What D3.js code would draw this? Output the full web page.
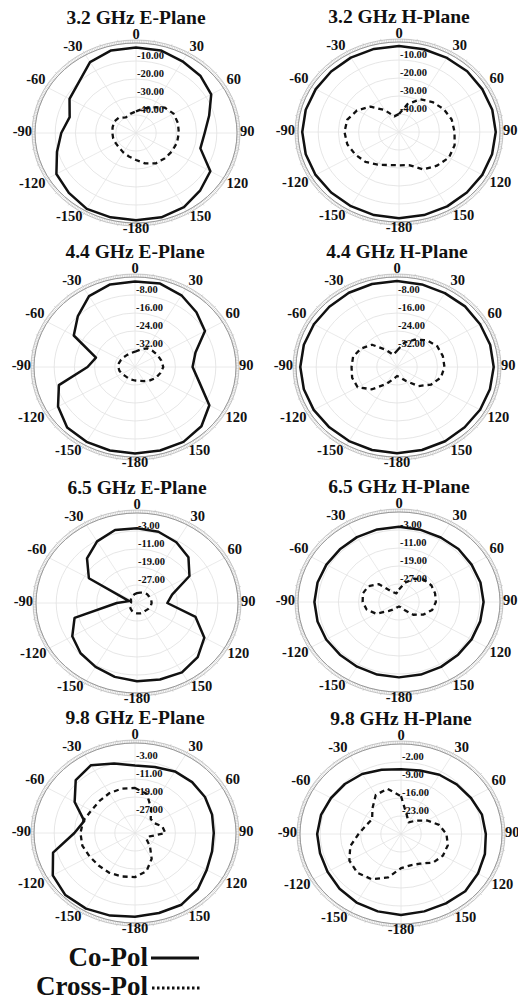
<!DOCTYPE html>
<html><head><meta charset="utf-8">
<script src="https://cdn.jsdelivr.net/npm/d3@7"></script>
<style>html,body{margin:0;padding:0;background:#fff;}svg{display:block;}</style>
</head><body>
<svg id="c" width="518" height="1002"></svg>
<script>
// Angles (deg, clockwise from top); 195..345 correspond to -165..-15
const angles = [0,15,30,45,60,75,90,105,120,135,150,165,180,195,210,225,240,255,270,285,300,315,330,345];
const angleTickLabels = ["0","30","60","90","120","150","-180","-150","-120","-90","-60","-30"];
const angleTickAngles = [0,30,60,90,120,150,180,210,240,270,300,330];

const titles = ["3.2 GHz E-Plane","3.2 GHz H-Plane","4.4 GHz E-Plane","4.4 GHz H-Plane",
                "6.5 GHz E-Plane","6.5 GHz H-Plane","9.8 GHz E-Plane","9.8 GHz H-Plane"];

// radial ranges [center, outer] in dB and printed ring labels
const radialDomains = [[-50,0],[-50,0],[-40,0],[-40,0],[-35,5],[-35,5],[-35,5],[-30,5]];
const radialTicks = [
  [-10,-20,-30,-40],[-10,-20,-30,-40],
  [-8,-16,-24,-32],[-8,-16,-24,-32],
  [-3,-11,-19,-27],[-3,-11,-19,-27],
  [-3,-11,-19,-27],[-2,-9,-16,-23]];

// Co-polar patterns (dB)
const coPol32E = [-2.5,-2.5,-4,-5,-7,-12.5,-16,-17,-7.5,-5,-2.5,-1.5,-1.5,-1.5,-1.3,-3,-4.5,-9.5,-13,-16,-12,-10,-4.5,-2.5];
const coPol32H = [-2.2,-2.4,-2.5,-2.3,-2.4,-2.2,-2.1,-2.3,-2.4,-2.5,-2.3,-2.2,-2.1,-2.2,-2.4,-2.5,-2.3,-2.2,-2.1,-2.2,-2.4,-2.5,-2.3,-2.2];
const coPol44E = [-2,-1.6,-3.2,-5.6,-8,-15.2,-17.2,-13.6,-6,-2.8,-1.6,-1.6,-1.6,-1.6,-1.6,-2,-4.8,-8.8,-21.2,-24,-12,-8,-3.6,-2];
const coPol44H = [-1.8,-2,-2.1,-1.9,-2,-1.8,-1.7,-1.9,-2,-2.1,-1.9,-1.8,-1.7,-1.8,-2,-2.1,-1.9,-1.8,-1.7,-1.8,-2,-2.1,-1.9,-1.8];
const coPol65E = [-1.8,-2.2,-3.8,-6.2,-11,-20.6,-23,-11,-4.2,-1,0.6,0.2,-0.2,-1,-2.2,-3.4,-5.4,-9.4,-27,-31.8,-13,-7,-3.4,-1.4];
const coPol65H = [-1.6,-1.8,-1.9,-1.7,-1.8,-1.6,-1.5,-1.7,-1.8,-1.9,-1.7,-1.6,-1.5,-1.6,-1.8,-1.9,-1.7,-1.6,-1.5,-1.6,-1.8,-1.9,-1.7,-1.6];
const coPol98E = [-5,-4.6,-3.4,-3,-3,-3.4,-3.8,-3.4,-2.2,0.2,1.8,1.8,2.2,3,3.8,4,2.6,-1.4,-11,-14.2,-7.4,-1.8,-0.2,-3];
const coPol98H = [-4.8,-4.45,-3.4,-2.7,-2,-0.95,-0.6,0.1,0.8,1.5,1.15,1.15,1.5,1.15,0.8,0.1,-0.6,-0.95,-0.95,-1.3,-2,-2.5,-3.05,-4.1];

// Cross-polar patterns (dB)
const xPol32E = [-38,-36,-33.5,-30,-28.5,-28.5,-28.8,-29,-29.5,-30,-30.5,-32.5,-35,-36.5,-37.5,-38.3,-38.5,-38.3,-38.3,-38,-37.5,-38,-40,-39];
const xPol32H = [-40,-34,-29,-26.5,-24.5,-23,-22.5,-21.5,-21.5,-23.5,-26,-31,-31.5,-31,-29,-26.5,-25,-23.5,-23,-23.5,-26,-30,-36,-41];
const xPol44E = [-33.2,-32,-30.4,-30,-29.6,-29.2,-28.8,-29.6,-30.4,-31.6,-32.8,-33.6,-34,-34.2,-34.4,-34.4,-34,-33.6,-33.4,-33.4,-33.6,-33.8,-33.8,-33.6];
const xPol44H = [-32.8,-28.8,-26,-23.2,-21.6,-21.2,-21.2,-22,-24.4,-28,-32.8,-35.2,-36,-34.4,-31.2,-26,-22,-21.6,-22,-22,-23.6,-26,-31.2,-34.4];
const xPol65E = [-30.6,-30.2,-29.8,-29.4,-29.4,-29.2,-29.2,-29.4,-29.8,-30.2,-30.2,-30.2,-30.4,-30.6,-31,-31.4,-31.8,-32.2,-32.6,-32.6,-32.2,-31.8,-31.4,-31];
const xPol65H = [-29.4,-26.2,-23,-21,-20.2,-20.2,-20.4,-21.4,-23.8,-27,-31,-32.6,-33,-32.6,-31.4,-29.4,-24.6,-21.8,-20.6,-20.2,-21,-23.8,-29.8,-31];
const xPol98E = [-15,-17,-22.2,-26.2,-26.2,-23.8,-23,-29,-29.8,-26.6,-21.8,-17.4,-15.4,-15,-14.6,-14.6,-14.2,-13.4,-13.4,-13.8,-15,-15,-14.6,-14.6];
const xPol98H = [-15.3,-22.3,-24.75,-22.65,-19.5,-16.35,-14.25,-13.2,-13.2,-14.25,-16.7,-17.4,-16.7,-12.5,-9.7,-8.65,-9.35,-11.8,-15.3,-17.4,-18.45,-16,-12.5,-11.8];

const coSeries = [coPol32E,coPol32H,coPol44E,coPol44H,coPol65E,coPol65H,coPol98E,coPol98H];
const xSeries = [xPol32E,xPol32H,xPol44E,xPol44H,xPol65E,xPol65H,xPol98E,xPol98H];

const legendLabels = ["Co-Pol","Cross-Pol"];

// ---------- layout ----------
const centers = [[136,133],[399,132],[135,367],[397,367],[137,603],[399,602],[135,833],[401,834]];
const RX = 101, RY = 90;
const serif = "'Liberation Serif','Times New Roman',serif";
const svg = d3.select("#c");
const rad = d3.scaleLinear().domain([0,360]).range([0,2*Math.PI]);

centers.forEach((c,i)=>{
  const [cx,cy] = c;
  const g = svg.append("g");
  const r = d3.scaleLinear().domain(radialDomains[i]).range([0,1]).clamp(true);
  const px = (a,f,extra=0)=> cx + (RX*f+extra)*Math.sin(rad(a));
  const py = (a,f,extra=0)=> cy - (RY*f+extra)*Math.cos(rad(a));

  // grid rings
  const rings = [radialDomains[i][1]].concat(radialTicks[i]);
  g.selectAll("ellipse.grid").data(rings).join("ellipse")
    .attr("cx",cx).attr("cy",cy)
    .attr("rx",d=>RX*r(d)).attr("ry",d=>RY*r(d))
    .attr("fill","none").attr("stroke","#e0e0e0").attr("stroke-width",0.8);
  // radial spokes
  g.selectAll("line.spoke").data(angleTickAngles).join("line")
    .attr("x1",cx).attr("y1",cy)
    .attr("x2",d=>px(d,1)).attr("y2",d=>py(d,1))
    .attr("stroke","#e4e4e4").attr("stroke-width",0.8);
  // outer degree ring with fine hatch ticks
  g.selectAll("line.tk").data(d3.range(0,360,1)).join("line")
    .attr("x1",d=>px(d,1)).attr("y1",d=>py(d,1))
    .attr("x2",d=>px(d,1,d%10===0?4.5:3)).attr("y2",d=>py(d,1,d%10===0?4.5:3))
    .attr("stroke","#b4b4b4").attr("stroke-width",0.5);
  g.append("ellipse").attr("cx",cx).attr("cy",cy).attr("rx",RX).attr("ry",RY)
    .attr("fill","none").attr("stroke","#8e8e8e").attr("stroke-width",0.9);
  g.append("ellipse").attr("cx",cx).attr("cy",cy).attr("rx",RX+3).attr("ry",RY+3)
    .attr("fill","none").attr("stroke","#b0b0b0").attr("stroke-width",0.7);

  // radial ring labels
  g.selectAll("text.rl").data(radialTicks[i]).join("text")
    .attr("x",cx+1).attr("y",d=>cy-RY*r(d)-4)
    .attr("dominant-baseline","middle")
    .attr("font-family",serif).attr("font-weight","bold").attr("font-size",10.5)
    .attr("fill","#111").text(d=>d.toFixed(2));

  // angle labels, placed just outside the ellipse
  g.selectAll("text.al").data(angleTickAngles).join("text")
    .attr("text-anchor","middle").attr("dominant-baseline","middle")
    .attr("font-family",serif).attr("font-weight","bold").attr("font-size",14.5)
    .attr("fill","#111").text((d,k)=>angleTickLabels[k])
    .each(function(d){
      const w = this.getComputedTextLength();
      const s = Math.sin(rad(d)), co = Math.cos(rad(d));
      const sx = Math.abs(s)<1e-6?0:Math.sign(s), sy = Math.abs(co)<1e-6?0:Math.sign(co);
      d3.select(this)
        .attr("x", cx + RX*s + sx*(w/2+3))
        .attr("y", cy - RY*co - sy*7);
    });

  // title
  g.append("text").attr("x",cx).attr("y",cy-113)
    .attr("text-anchor","middle").attr("dominant-baseline","middle")
    .attr("font-family",serif).attr("font-weight","bold").attr("font-size",19.5)
    .attr("fill","#111").text(titles[i]);

  const line = d3.line()
    .x((d,k)=>px(angles[k],r(d)))
    .y((d,k)=>py(angles[k],r(d)))
    .curve(d3.curveLinearClosed);

  g.append("path").attr("d",line(xSeries[i]))
    .attr("fill","none").attr("stroke","#111").attr("stroke-width",2.3)
    .attr("stroke-dasharray","5,4").attr("stroke-linejoin","round");
  g.append("path").attr("d",line(coSeries[i]))
    .attr("fill","none").attr("stroke","#111").attr("stroke-width",2.5)
    .attr("stroke-linejoin","round");
});

// legend
const lg = svg.append("g");
const legY = [966, 995];
lg.selectAll("text").data(legendLabels).join("text")
  .attr("x",148).attr("y",(d,k)=>legY[k])
  .attr("text-anchor","end")
  .attr("font-family",serif).attr("font-weight","bold").attr("font-size",27)
  .attr("fill","#111").text(d=>d);
lg.append("line").attr("x1",151).attr("x2",199).attr("y1",958).attr("y2",958)
  .attr("stroke","#111").attr("stroke-width",3);
lg.append("line").attr("x1",152).attr("x2",200).attr("y1",988).attr("y2",988)
  .attr("stroke","#111").attr("stroke-width",3).attr("stroke-dasharray","2.5,2.5");
</script>
</body></html>
